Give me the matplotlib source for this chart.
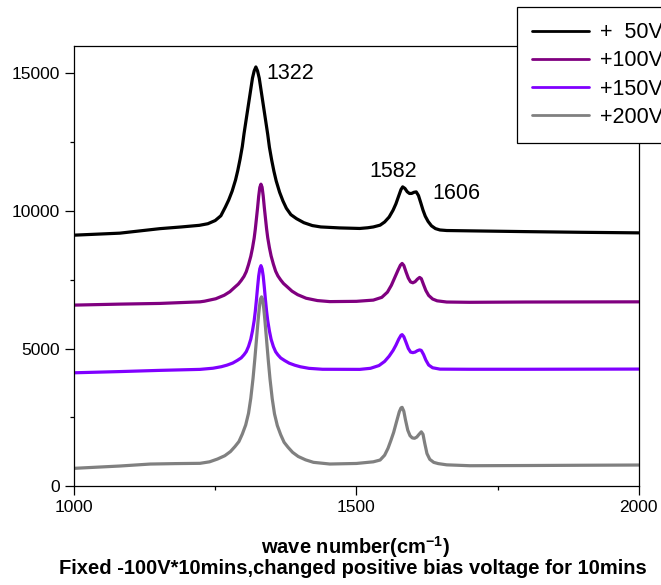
"""
Спектры комбинационного рассеяния при разном положительном смещении.
Рисует четыре спектра и сохраняет картинку в out.png.
"""

import matplotlib

matplotlib.use("Agg")
import matplotlib.pyplot as plt

# ===============================================================
# ДАННЫЕ (волновое число, см^-1 / интенсивность, усл. ед.)
# ===============================================================

# +50V
wn_50v = [1000, 1081, 1152, 1190, 1222, 1237, 1250, 1260, 1268, 1274,
          1280, 1286, 1290, 1294, 1298, 1301, 1304, 1307, 1310, 1313,
          1316, 1319, 1322, 1325, 1328, 1331, 1334, 1337, 1340, 1343,
          1346, 1350, 1354, 1358, 1364, 1370, 1376, 1384, 1394, 1407,
          1422, 1437, 1470, 1506, 1520, 1530, 1542, 1550, 1558, 1565,
          1570, 1575, 1579, 1582, 1586, 1590, 1594, 1598, 1602, 1606,
          1610, 1614, 1618, 1622, 1627, 1633, 1640, 1648, 1660, 1701,
          1800, 1900, 2000]
int_50v = [9121, 9194, 9358, 9420, 9479, 9537, 9653, 9826, 10144, 10405,
           10723, 11128, 11475, 11881, 12344, 12806, 13212, 13617, 14022, 14427,
           14832, 15092, 15237, 15091, 14828, 14420, 14011, 13603, 13194, 12785,
           12319, 11852, 11443, 11093, 10684, 10363, 10100, 9867, 9721, 9575,
           9470, 9420, 9385, 9365, 9390, 9420, 9485, 9600, 9780, 10030,
           10260, 10550, 10780, 10877, 10820, 10700, 10637, 10640, 10680, 10695,
           10560, 10300, 10030, 9810, 9620, 9460, 9360, 9310, 9290, 9278,
           9250, 9225, 9205]

# +100V
wn_100v = [1000, 1081, 1152, 1223, 1231, 1251, 1266, 1276, 1284, 1291,
           1296, 1301, 1305, 1309, 1313, 1316, 1319, 1321, 1323, 1325,
           1327, 1329, 1331, 1333, 1335, 1337, 1339, 1341, 1343, 1346,
           1349, 1353, 1357, 1361, 1366, 1371, 1378, 1386, 1396, 1411,
           1431, 1453, 1500, 1530, 1545, 1555, 1562, 1568, 1574, 1578,
           1581, 1584, 1588, 1592, 1596, 1600, 1604, 1608, 1612, 1615,
           1619, 1623, 1628, 1635, 1643, 1660, 1700, 1800, 2000]
int_100v = [6578, 6614, 6639, 6697, 6720, 6809, 6937, 7066, 7216, 7344,
            7473, 7623, 7794, 8051, 8351, 8651, 9015, 9337, 9722, 10108,
            10537, 10858, 10975, 10868, 10548, 10120, 9735, 9351, 9030, 8667,
            8367, 8068, 7812, 7641, 7491, 7363, 7234, 7085, 6957, 6828,
            6743, 6705, 6715, 6760, 6860, 7050, 7300, 7580, 7860, 8030,
            8093, 8020, 7780, 7560, 7420, 7390, 7430, 7520, 7584, 7540,
            7320, 7110, 6930, 6800, 6734, 6690, 6680, 6690, 6697]

# +150V
wn_150v = [1000, 1081, 1152, 1223, 1246, 1261, 1271, 1281, 1289, 1296,
           1301, 1305, 1309, 1313, 1316, 1319, 1321, 1323, 1325, 1327,
           1329, 1331, 1333, 1335, 1337, 1339, 1341, 1343, 1346, 1349,
           1353, 1357, 1361, 1366, 1373, 1381, 1391, 1401, 1416, 1440,
           1506, 1525, 1540, 1550, 1558, 1565, 1570, 1575, 1579, 1581,
           1584, 1588, 1592, 1596, 1600, 1604, 1608, 1612, 1615, 1619,
           1623, 1628, 1635, 1648, 1700, 1800, 2000]
int_150v = [4117, 4161, 4205, 4241, 4283, 4339, 4396, 4471, 4565, 4659,
            4773, 4886, 5074, 5338, 5639, 6016, 6355, 6770, 7222, 7636,
            7900, 8013, 7900, 7636, 7221, 6768, 6353, 6014, 5637, 5335,
            5071, 4882, 4769, 4656, 4562, 4467, 4392, 4335, 4279, 4245,
            4241, 4280, 4380, 4530, 4720, 4930, 5120, 5340, 5480, 5505,
            5430, 5220, 5000, 4870, 4850, 4870, 4920, 4950, 4930, 4780,
            4580, 4400, 4300, 4250, 4245, 4245, 4252]

# +200V
wn_200v = [1000, 1081, 1135, 1180, 1223, 1240, 1254, 1267, 1277, 1285,
           1292, 1298, 1304, 1309, 1313, 1317, 1320, 1322, 1324, 1326,
           1328, 1330, 1332, 1334, 1336, 1338, 1340, 1342, 1344, 1347,
           1351, 1355, 1360, 1366, 1372, 1379, 1387, 1397, 1410, 1424,
           1453, 1500, 1530, 1542, 1550, 1556, 1561, 1566, 1571, 1576,
           1579, 1581, 1584, 1587, 1591, 1595, 1599, 1603, 1607, 1611,
           1615, 1618, 1621, 1625, 1630, 1637, 1645, 1660, 1701, 1800,
           1900, 2000]
int_200v = [643, 727, 799, 815, 825, 880, 981, 1102, 1253, 1435,
            1616, 1889, 2221, 2645, 3189, 3915, 4580, 5064, 5548, 6032,
            6456, 6788, 6879, 6788, 6453, 6028, 5542, 5055, 4569, 3900,
            3171, 2624, 2198, 1864, 1590, 1408, 1226, 1074, 952, 861,
            800, 820, 880, 945, 1120, 1370, 1650, 1950, 2330, 2700,
            2840, 2860, 2720, 2400, 2030, 1830, 1750, 1735, 1780, 1880,
            1970, 1880, 1560, 1180, 970, 860, 815, 770, 738, 745,
            755, 763]

labels = ["+  50V", "+100V", "+150V", "+200V"]
colors = ["#000000", "#800080", "#8000FF", "#808080"]

# подписи пиков: (текст, x, y, выравнивание)
peak_labels = [("1322", 1341, 15000, "left"),
               ("1582", 1566, 11420, "center"),
               ("1606", 1634, 10640, "left")]


# ===============================================================
# ПОСТРОЕНИЕ ГРАФИКА
# ===============================================================

def plot_spectra(path: str) -> str:
    plt.rcParams["font.family"] = "Liberation Sans"
    plt.rcParams["mathtext.fontset"] = "custom"
    plt.rcParams["mathtext.rm"] = "Liberation Sans"
    plt.rcParams["mathtext.bf"] = "Liberation Sans:bold"

    fig = plt.figure(figsize=(6.61, 5.85), dpi=100)
    ax = fig.add_axes([0.112, 0.1692, 0.8543, 0.7522])

    series = [(wn_50v, int_50v), (wn_100v, int_100v),
              (wn_150v, int_150v), (wn_200v, int_200v)]
    for (x, y), lab, col in zip(series, labels, colors):
        ax.plot(x, y, color=col, lw=2.3, label=lab,
                solid_joinstyle="round", solid_capstyle="round")

    ax.set_xlim(1000, 2000)
    ax.set_ylim(0, 16000)
    ax.set_xticks([1000, 1500, 2000])
    ax.set_xticks([1250, 1750], minor=True)
    ax.set_yticks([0, 5000, 10000, 15000])
    ax.set_yticks([2500, 7500, 12500], minor=True)
    ax.tick_params(which="major", direction="out", length=6.5, width=0.9,
                   labelsize=12.5)
    ax.tick_params(which="minor", direction="out", length=3.2, width=0.9)
    for sp in ax.spines.values():
        sp.set_linewidth(0.9)

    for txt, x, y, ha in peak_labels:
        ax.text(x, y, txt, fontsize=15.5, ha=ha, va="center")

    leg = fig.legend(loc="upper left", bbox_to_anchor=(517 / 661, 1 - 7 / 585),
                     fontsize=15.5, frameon=True, fancybox=False,
                     edgecolor="black", framealpha=1, borderaxespad=0,
                     borderpad=0.7, handlelength=2.65, handletextpad=0.5,
                     labelspacing=0.34)
    leg.get_frame().set_linewidth(0.9)
    for line in leg.get_lines():
        line.set_linewidth(2.0)

    fig.text(356 / 661, 1 - 546.7 / 585, r"wave number(cm$^{\mathbf{-1}}$)",
             fontsize=14.5, fontweight="bold", ha="center", va="center")
    fig.text(353 / 661, 1 - 568.3 / 585,
             "Fixed -100V*10mins,changed positive bias voltage for 10mins",
             fontsize=14.5, fontweight="bold", ha="center", va="center")

    fig.savefig(path, dpi=100)
    plt.close(fig)
    return path


if __name__ == "__main__":
    print(plot_spectra("out.png"))
